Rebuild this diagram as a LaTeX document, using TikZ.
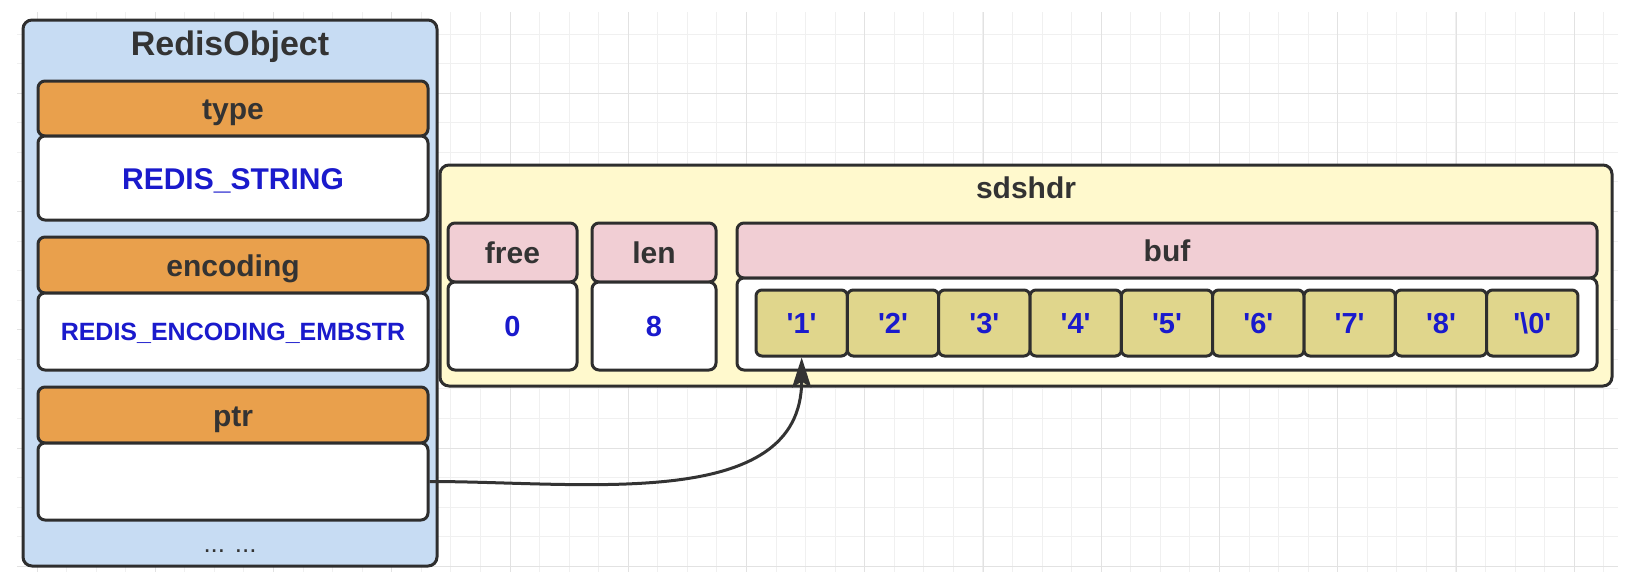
\documentclass[tikz,border=0pt]{standalone}
\usepackage{fontspec}
\setmainfont{Liberation Sans}
\usetikzlibrary{arrows.meta}

\definecolor{objblue}{HTML}{C7DCF3}
\definecolor{headorange}{HTML}{E9A04C}
\definecolor{sdsyellow}{HTML}{FFF9CD}
\definecolor{headpink}{HTML}{F1CED4}
\definecolor{cellkhaki}{HTML}{E0D68C}
\definecolor{edge}{HTML}{2E2E2E}
\definecolor{darktext}{HTML}{333333}
\definecolor{valblue}{HTML}{1A1ACC}
\definecolor{gridminor}{HTML}{F0F0F0}
\definecolor{gridmajor}{HTML}{E2E2E2}

\newcommand{\q}[1]{\textquotesingle#1\textquotesingle}

\begin{document}
\begin{tikzpicture}[x=1pt, y=-1pt,
every node/.style={shape=rectangle, rounded corners=7pt, draw=edge, line width=3pt, inner sep=0pt, align=center},
big/.style={font=\fontsize{30}{36}\selectfont\bfseries, text height=22pt, text depth=0pt},
title/.style={big, draw=none, text=darktext},
ohead/.style={big, fill=headorange, text=darktext, minimum width=390pt},
oval/.style={big, fill=white, text=valblue, minimum width=390pt},
shead/.style={big, fill=headpink, text=darktext},
sval/.style={fill=white, text=valblue, font=\fontsize{29}{35}\selectfont\bfseries, text height=21pt, text depth=0pt},
cell/.style={sval, fill=cellkhaki, rounded corners=6pt, minimum width=91.33pt, minimum height=66pt},
ptrline/.style={draw=darktext, line width=3pt, -{Stealth[length=30pt, width=19pt, inset=6pt]}}]
\useasboundingbox (0,0) rectangle (1630,584);

% grid
\foreach \k [evaluate=\k as \gx using 7.5+29.56*\k] in {1,...,54}
  \draw[gridminor, line width=1pt] (\gx,12) -- (\gx,572);
\foreach \k [evaluate=\k as \gy using 4.6+29.56*\k] in {1,...,19}
  \draw[gridminor, line width=1pt] (17,\gy) -- (1618,\gy);
\foreach \k [evaluate=\k as \gx using 37+118.25*\k] in {0,...,13}
  \draw[gridmajor, line width=1pt] (\gx,12) -- (\gx,572);
\foreach \k [evaluate=\k as \gy using 93.3+118.25*\k] in {0,...,4}
  \draw[gridmajor, line width=1pt] (17,\gy) -- (1618,\gy);

% RedisObject
\node (obj) [fill=objblue, rounded corners=9pt, minimum width=414pt, minimum height=546pt] at (230,293) {};
\node (objtitle) [title, font=\fontsize{34}{40}\selectfont\bfseries, text height=24.5pt] at (230,43.5) {RedisObject};
\node (typeh) [ohead, minimum height=55pt] at (233,108.5) {type};
\node (typev) [oval, minimum height=84pt] at (233,178) {REDIS\_STRING};
\node (ench) [ohead, minimum height=56pt] at (233,265) {encoding};
\node (encv) [oval, minimum height=77pt, font=\fontsize{25}{30}\selectfont\bfseries, text height=18pt] at (233,331.5) {REDIS\_ENCODING\_EMBSTR};
\node (ptrh) [ohead, minimum height=56pt] at (233,415) {ptr};
\node (ptrv) [oval, minimum height=77pt] at (233,481.5) {};
\node (more) [title, font=\fontsize{26}{32}\selectfont, anchor=base, text height=0pt] at (230,552) {... ...};

% sdshdr
\node (sds) [fill=sdsyellow, rounded corners=9pt, minimum width=1172pt, minimum height=221pt] at (1026,275.5) {};
\node (sdstitle) [title] at (1026,187) {sdshdr};
\node (freeh) [shead, minimum width=129pt, minimum height=59pt] at (512.5,252.5) {free};
\node (freev) [sval, minimum width=129pt, minimum height=88pt] at (512.5,326) {0};
\node (lenh) [shead, minimum width=124pt, minimum height=59pt] at (654,252.5) {len};
\node (lenv) [sval, minimum width=124pt, minimum height=88pt] at (654,326) {8};
\node (bufh) [shead, minimum width=860pt, minimum height=55pt] at (1167,250.5) {buf};
\node (bufv) [sval, minimum width=860pt, minimum height=92pt] at (1167,324) {};
\foreach \c [count=\i from 0] in {1,...,8,\textbackslash0}
  \node (c\i) [cell] at (801.67+91.33*\i,323) {\q{\c}};

% ptr -> buf
\draw[ptrline] (ptrv.east) .. controls +(154,0) and +(0,155) .. (c0.south);
\end{tikzpicture}
\end{document}
